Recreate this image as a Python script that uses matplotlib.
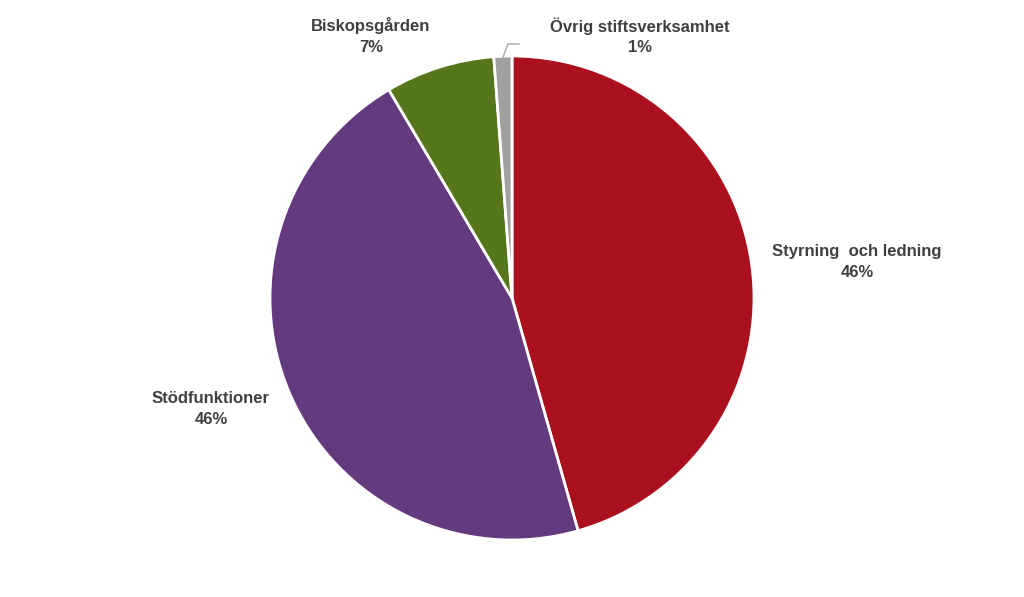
import numpy as np
import matplotlib.pyplot as plt

plt.rcParams['font.family'] = ['Liberation Sans', 'DejaVu Sans']

#===================================================================================
#                         data
#===================================================================================
labels = ['Styrning  och ledning', 'Stödfunktioner', 'Biskopsgården', 'Övrig stiftsverksamhet']
values = [45.6, 45.9, 7.3, 1.2]
colors = ['#AB101E', '#633A7D', '#55761A', '#A0A0A0']

# label positions in pixel coords (x, y from top)
lab_pos = [(857, 262), (211, 409), (371, 36), (640, 36)]

#===================================================================================
#                         plot
#===================================================================================
W, H = 1024, 597
fig = plt.figure(figsize=(W/100, H/100), dpi=100)
ax = fig.add_axes([0, 0, 1, 1])

cx, cy, r = 512, H - 298, 242
ax.pie(values, colors=colors, startangle=90, counterclock=False,
       center=(cx, cy), radius=r, frame=True,
       wedgeprops=dict(edgecolor='white', linewidth=2))
ax.set_xlim(0, W)
ax.set_ylim(0, H)
ax.set_aspect('equal')
ax.axis('off')

tot = sum(values)
for lab, v, (x, y) in zip(labels, values, lab_pos):
    ax.text(x, H - y, '%s\n%d%%' % (lab, round(v / tot * 100)),
            ha='center', va='center', fontsize=12, fontweight='bold',
            color='#404040', linespacing=1.45)

# leader line for the small slice
ax.plot([503, 508, 519], [H - 57, H - 44, H - 44], color='#A6A6A6', lw=1)

fig.savefig('out.png', dpi=100)
